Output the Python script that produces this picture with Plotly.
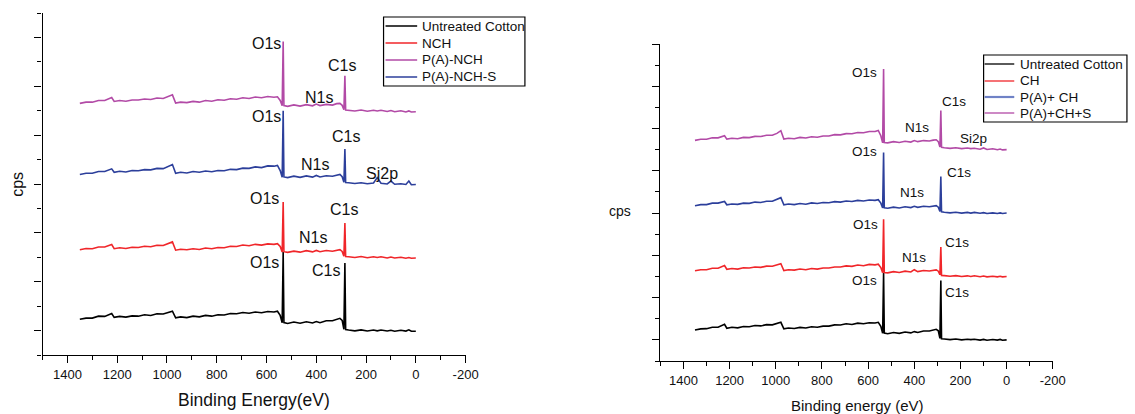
import plotly.graph_objects as go

# Binding-energy grid (eV) shared by all spectra
energy = [1350, 1325, 1300, 1275, 1250, 1235, 1222, 1212, 1190, 1165,
          1140, 1115, 1090, 1065, 1040, 1015, 995, 978, 965, 945,
          920, 895, 870, 845, 820, 795, 770, 745, 720, 695,
          670, 645, 620, 595, 570, 556, 545, 537, 533, 530,
          515, 490, 465, 440, 415, 400, 385, 360, 335, 318,
          305, 296, 289, 285, 282, 270, 245, 220, 195, 170,
          155, 140, 115, 100, 85, 60, 40, 28, 18, 0]

# ---- left panel (stacked survey spectra, offset intensity in cps units) ----
left_untreated = [1.46, 1.51, 1.51, 1.59, 1.58, 1.66, 1.70, 1.54, 1.58, 1.55,
                  1.60, 1.59, 1.65, 1.62, 1.69, 1.68, 1.75, 1.79, 1.52, 1.56,
                  1.53, 1.59, 1.56, 1.62, 1.59, 1.65, 1.64, 1.70, 1.69, 1.74,
                  1.71, 1.76, 1.73, 1.78, 1.76, 1.79, 1.62, 1.32, 4.22, 1.33,
                  1.29, 1.35, 1.30, 1.36, 1.31, 1.37, 1.32, 1.40, 1.40, 1.45,
                  1.50, 1.42, 1.05, 3.77, 1.04, 1.02, 0.99, 1.03, 0.98, 1.02,
                  0.99, 1.02, 0.98, 1.01, 0.97, 1.01, 0.98, 1.03, 0.97, 0.97]
left_nch = [4.31, 4.36, 4.35, 4.42, 4.42, 4.49, 4.52, 4.35, 4.39, 4.36,
            4.41, 4.40, 4.45, 4.43, 4.49, 4.48, 4.56, 4.63, 4.29, 4.33,
            4.31, 4.35, 4.32, 4.38, 4.35, 4.40, 4.39, 4.45, 4.44, 4.50,
            4.47, 4.53, 4.50, 4.55, 4.53, 4.56, 4.44, 4.22, 6.26, 4.23,
            4.20, 4.25, 4.21, 4.27, 4.22, 4.28, 4.23, 4.28, 4.25, 4.30,
            4.31, 4.24, 4.04, 5.40, 4.03, 4.02, 3.99, 4.03, 3.98, 4.02,
            3.99, 4.02, 3.97, 4.01, 3.97, 4.00, 3.96, 3.99, 3.96, 3.97]
left_pa_nch = [10.30, 10.35, 10.35, 10.42, 10.42, 10.50, 10.54, 10.38, 10.42, 10.39,
               10.44, 10.44, 10.48, 10.46, 10.52, 10.50, 10.58, 10.65, 10.31, 10.35,
               10.33, 10.38, 10.35, 10.42, 10.39, 10.45, 10.43, 10.49, 10.47, 10.53,
               10.50, 10.56, 10.53, 10.58, 10.55, 10.57, 10.42, 10.20, 12.83, 10.21,
               10.18, 10.24, 10.19, 10.25, 10.20, 10.27, 10.21, 10.26, 10.23, 10.29,
               10.30, 10.22, 10.04, 11.43, 10.03, 10.02, 9.99, 10.03, 9.98, 10.02,
               9.99, 10.02, 9.97, 10.01, 9.96, 10.00, 9.95, 9.99, 9.95, 9.96]
left_pa_nch_s = [7.39, 7.44, 7.44, 7.51, 7.51, 7.58, 7.62, 7.48, 7.52, 7.49,
                 7.55, 7.54, 7.59, 7.58, 7.64, 7.63, 7.73, 7.80, 7.44, 7.48,
                 7.45, 7.51, 7.48, 7.53, 7.50, 7.55, 7.54, 7.60, 7.59, 7.65,
                 7.64, 7.70, 7.67, 7.74, 7.73, 7.76, 7.55, 7.28, 10.00, 7.29,
                 7.26, 7.32, 7.27, 7.33, 7.28, 7.35, 7.29, 7.34, 7.32, 7.37,
                 7.39, 7.30, 7.07, 8.43, 7.06, 7.05, 7.02, 7.05, 7.01, 7.04,
                 7.26, 7.03, 7.00, 7.12, 6.99, 7.01, 6.98, 7.12, 6.97, 6.98]

# ---- right panel ----
right_untreated = [1.47, 1.52, 1.53, 1.60, 1.60, 1.68, 1.74, 1.55, 1.60, 1.57,
                   1.63, 1.62, 1.68, 1.66, 1.72, 1.71, 1.79, 1.83, 1.52, 1.56,
                   1.54, 1.59, 1.56, 1.62, 1.60, 1.65, 1.65, 1.71, 1.70, 1.76,
                   1.73, 1.79, 1.76, 1.81, 1.80, 1.83, 1.64, 1.31, 4.17, 1.32,
                   1.29, 1.35, 1.31, 1.37, 1.33, 1.39, 1.35, 1.42, 1.42, 1.46,
                   1.50, 1.43, 1.07, 3.81, 1.05, 1.04, 1.01, 1.04, 1.00, 1.03,
                   1.01, 1.03, 0.99, 1.02, 0.98, 1.02, 0.99, 1.02, 0.98, 1.00]
right_ch = [4.27, 4.32, 4.32, 4.39, 4.39, 4.47, 4.52, 4.34, 4.38, 4.35,
            4.41, 4.40, 4.45, 4.43, 4.49, 4.48, 4.55, 4.60, 4.28, 4.32,
            4.30, 4.35, 4.32, 4.38, 4.35, 4.40, 4.40, 4.45, 4.45, 4.50,
            4.48, 4.54, 4.51, 4.57, 4.55, 4.58, 4.42, 4.18, 6.71, 4.19,
            4.17, 4.23, 4.19, 4.25, 4.21, 4.32, 4.23, 4.28, 4.26, 4.30,
            4.31, 4.25, 4.08, 5.39, 4.05, 4.04, 4.01, 4.04, 4.00, 4.03,
            4.00, 4.03, 3.99, 4.02, 3.98, 4.01, 3.98, 4.01, 3.98, 4.00]
right_pa_ch = [7.35, 7.40, 7.40, 7.47, 7.47, 7.53, 7.55, 7.39, 7.43, 7.41,
               7.47, 7.46, 7.52, 7.50, 7.56, 7.56, 7.65, 7.73, 7.39, 7.43,
               7.40, 7.45, 7.42, 7.48, 7.45, 7.50, 7.49, 7.54, 7.52, 7.57,
               7.55, 7.60, 7.57, 7.62, 7.60, 7.63, 7.47, 7.24, 9.87, 7.25,
               7.23, 7.28, 7.24, 7.30, 7.26, 7.32, 7.27, 7.32, 7.30, 7.34,
               7.35, 7.28, 7.08, 8.73, 7.06, 7.04, 7.01, 7.04, 7.00, 7.03,
               7.00, 7.03, 6.99, 7.02, 6.98, 7.01, 6.98, 7.01, 6.98, 7.00]
right_pa_ch_s = [10.44, 10.49, 10.49, 10.56, 10.56, 10.62, 10.66, 10.50, 10.54, 10.52,
                 10.58, 10.57, 10.63, 10.62, 10.68, 10.68, 10.77, 10.90, 10.50, 10.54,
                 10.52, 10.58, 10.55, 10.61, 10.59, 10.65, 10.65, 10.71, 10.70, 10.76,
                 10.75, 10.81, 10.80, 10.86, 10.86, 10.91, 10.66, 10.32, 13.82, 10.34,
                 10.32, 10.38, 10.34, 10.40, 10.36, 10.43, 10.38, 10.43, 10.41, 10.45,
                 10.47, 10.38, 10.13, 11.85, 10.11, 10.09, 10.06, 10.09, 10.05, 10.08,
                 10.05, 10.07, 10.02, 10.08, 10.01, 10.04, 10.00, 10.03, 9.99, 10.00]

left_names = ["Untreated Cotton", "NCH", "P(A)-NCH", "P(A)-NCH-S"]
right_names = ["Untreated Cotton", "CH", "P(A)+ CH", "P(A)+CH+S"]

BLACK, RED, MAGENTA, BLUE = "#000000", "#f0262a", "#b24aa6", "#2c3f9b"
LEGEND_BLUE = "#6f82c6"

# peak labels: (text, binding energy, offset intensity)
left_labels = [
    ("O1s", 602, 12.77), ("C1s", 296, 11.87), ("N1s", 388, 10.56),
    ("O1s", 602, 9.78), ("C1s", 281, 8.96), ("N1s", 406, 7.78), ("Sj2p", 136, 7.45),
    ("O1s", 610, 6.39), ("C1s", 290, 5.94), ("N1s", 412, 4.83),
    ("O1s", 610, 3.77), ("C1s", 360, 3.44),
]
right_labels = [
    ("O1s", 616, 13.63), ("C1s", 228, 12.26), ("N1s", 387, 11.03), ("Si2p", 143, 10.51),
    ("O1s", 616, 9.89), ("C1s", 207, 8.90), ("N1s", 410, 7.95),
    ("O1s", 611, 6.48), ("C1s", 215, 5.63), ("N1s", 400, 4.92),
    ("O1s", 614, 3.83), ("C1s", 215, 3.22),
]

x_ticks = [1400, 1200, 1000, 800, 600, 400, 200, 0, -200]

W, H = 1135, 414
FONT = "Arial, Liberation Sans, sans-serif"


def px(x):
    return x / W


def py(y):
    return 1 - y / H


fig = go.Figure()

left_series = [(left_untreated, BLACK), (left_nch, RED),
               (left_pa_nch, MAGENTA), (left_pa_nch_s, BLUE)]
for name, (vals, col) in zip(left_names, left_series):
    fig.add_trace(go.Scatter(x=energy, y=vals, mode="lines", name=name,
                             line=dict(color=col, width=1.6),
                             xaxis="x", yaxis="y", showlegend=False))

right_series = [(right_untreated, BLACK), (right_ch, RED),
                (right_pa_ch, BLUE), (right_pa_ch_s, MAGENTA)]
for name, (vals, col) in zip(right_names, right_series):
    fig.add_trace(go.Scatter(x=energy, y=vals, mode="lines", name=name,
                             line=dict(color=col, width=1.6),
                             xaxis="x2", yaxis="y2", showlegend=False))

annotations = []
for text, ev, val in left_labels:
    annotations.append(dict(text=text, x=ev, y=val, xref="x", yref="y",
                            xanchor="center", yanchor="middle",
                            showarrow=False, font=dict(family=FONT, size=16, color="#111")))
for text, ev, val in right_labels:
    annotations.append(dict(text=text, x=ev, y=val, xref="x2", yref="y2",
                            xanchor="center", yanchor="middle",
                            showarrow=False, font=dict(family=FONT, size=13.5, color="#111")))

# axis titles
annotations += [
    dict(text="cps", x=px(17), y=py(184), xref="paper", yref="paper",
         xanchor="center", yanchor="middle",
         textangle=-90, showarrow=False, font=dict(family=FONT, size=16, color="#111")),
    dict(text="Binding Energy(eV)", x=px(257), y=py(400), xref="paper", yref="paper",
         xanchor="center", yanchor="middle",
         showarrow=False, font=dict(family=FONT, size=17.5, color="#111")),
    dict(text="cps", x=px(627), y=py(211), xref="paper", yref="paper",
         xanchor="center", yanchor="middle",
         showarrow=False, font=dict(family=FONT, size=14, color="#111")),
    dict(text="Binding energy (eV)", x=px(867), y=py(405), xref="paper", yref="paper",
         xanchor="center", yanchor="middle",
         showarrow=False, font=dict(family=FONT, size=15, color="#111")),
]

# legend boxes drawn as shapes + labels
shapes = []
legend_specs = [
    # names, colours, box (x0, y0, x1, y1), line x0/x1, text x, row centres
    (left_names, [BLACK, RED, MAGENTA, BLUE], (388, 17, 531, 86), (390, 422), 425,
     [26, 43, 60, 77], 13.5),
    (right_names, [BLACK, RED, LEGEND_BLUE, MAGENTA], (995, 55, 1140, 122), (996, 1026), 1030,
     [64, 81, 97, 113], 13.5),
]
for names, cols, box, (lx0, lx1), tx, rows, fsize in legend_specs:
    shapes.append(dict(type="rect", xref="paper", yref="paper",
                       x0=px(box[0]), x1=px(box[2]), y0=py(box[3]), y1=py(box[1]),
                       line=dict(color="#000", width=1.2), fillcolor="white", layer="above"))
    for name, col, ry in zip(names, cols, rows):
        lw = 2.2 if col == LEGEND_BLUE else 1.3
        shapes.append(dict(type="line", xref="paper", yref="paper",
                           x0=px(lx0), x1=px(lx1), y0=py(ry), y1=py(ry),
                           line=dict(color=col, width=lw), layer="above"))
        annotations.append(dict(text=name, x=px(tx), y=py(ry), xref="paper", yref="paper",
                                xanchor="left", yanchor="middle", showarrow=False,
                                font=dict(family=FONT, size=fsize, color="#111")))

xaxis_common = dict(
    autorange=False, range=[1500, -200], showgrid=False, zeroline=False,
    showline=True, linecolor="#000", linewidth=1.3,
    ticks="outside", ticklen=7, tickwidth=1.2, tickcolor="#000",
    tickmode="array", tickvals=x_ticks, ticktext=[str(v) for v in x_ticks],
    tickfont=dict(family=FONT, size=13, color="#111"),
    minor=dict(ticks="outside", ticklen=4, tickwidth=1.2, tickcolor="#000",
               tickmode="linear", tick0=1500, dtick=100, showgrid=False),
)
yaxis_common = dict(
    showgrid=False, zeroline=False, showline=True, linecolor="#000", linewidth=1.3,
    ticks="outside", ticklen=7, tickwidth=1.2, tickcolor="#000",
    showticklabels=False, tickmode="linear", tick0=1, dtick=2,
    minor=dict(ticks="outside", ticklen=4, tickwidth=1.2, tickcolor="#000",
               tickmode="linear", tick0=0, dtick=2, showgrid=False),
)

fig.update_layout(
    width=W, height=H,
    margin=dict(l=0, r=0, t=0, b=0),
    paper_bgcolor="white", plot_bgcolor="white",
    showlegend=False,
    xaxis=dict(xaxis_common, domain=[px(43), px(471)], anchor="y"),
    yaxis=dict(yaxis_common, domain=[py(355), py(13)], range=[0, 14], anchor="x"),
    xaxis2=dict(xaxis_common, domain=[px(668), px(1065)], anchor="y2"),
    yaxis2=dict(yaxis_common, domain=[py(361), py(44)], range=[0, 15], anchor="x2"),
    annotations=annotations,
    shapes=shapes,
)

fig.write_html("out.html")
